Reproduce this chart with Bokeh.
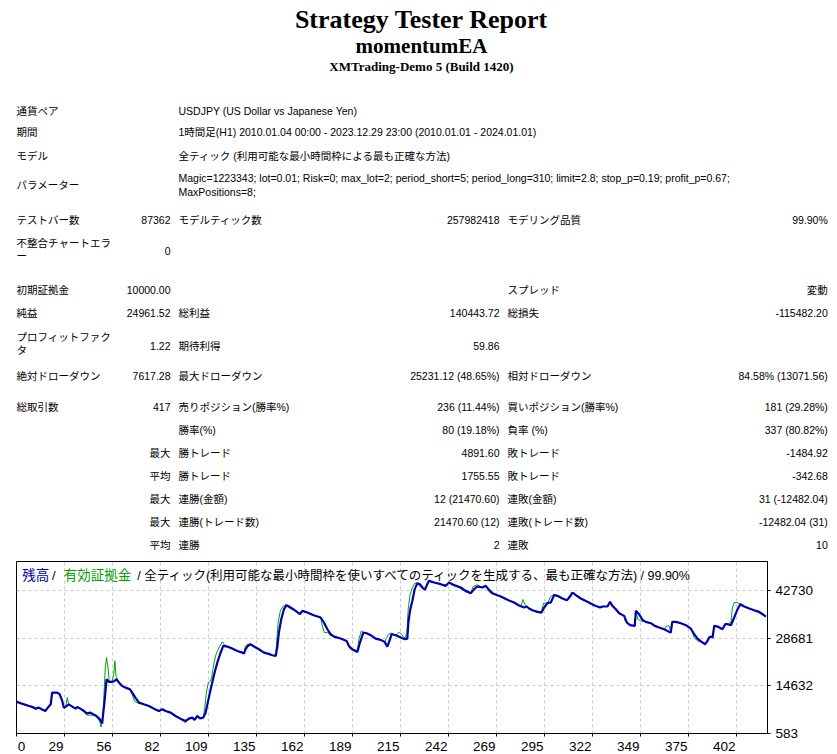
from bokeh.plotting import figure
from bokeh.models import Range1d, FixedTicker, Label, NumeralTickFormatter
from bokeh.layouts import column
from bokeh.core.properties import value
from bokeh.embed import file_html
from bokeh.resources import INLINE

# ---------------- data ----------------
report_title = "Strategy Tester Report"
expert_name = "momentumEA"
server_name = "XMTrading-Demo 5 (Build 1420)"

settings_labels = ["通貨ペア", "期間", "モデル", "パラメーター"]
settings_values = [
    ["USDJPY (US Dollar vs Japanese Yen)"],
    ["1時間足(H1) 2010.01.04 00:00 - 2023.12.29 23:00 (2010.01.01 - 2024.01.01)"],
    ["全ティック (利用可能な最小時間枠による最も正確な方法)"],
    ["Magic=1223343; lot=0.01; Risk=0; max_lot=2; period_short=5; period_long=310; limit=2.8; stop_p=0.19; profit_p=0.67;",
     "MaxPositions=8;"],
]

stat_col_a = [["テストバー数"], ["不整合チャートエラ", "ー"], ["初期証拠金"], ["純益"], ["プロフィットファク", "タ"],
              ["絶対ドローダウン"], ["総取引数"], [""], [""], [""], [""], [""], [""]]
stat_col_b = ["87362", "0", "10000.00", "24961.52", "1.22", "7617.28", "417", "", "最大", "平均", "最大", "最大", "平均"]
stat_col_c = ["モデルティック数", "", "", "総利益", "期待利得", "最大ドローダウン", "売りポジション(勝率%)", "勝率(%)",
              "勝トレード", "勝トレード", "連勝(金額)", "連勝(トレード数)", "連勝"]
stat_col_d = ["257982418", "", "", "140443.72", "59.86", "25231.12 (48.65%)", "236 (11.44%)", "80 (19.18%)",
              "4891.60", "1755.55", "12 (21470.60)", "21470.60 (12)", "2"]
stat_col_e = ["モデリング品質", "", "スプレッド", "総損失", "", "相対ドローダウン", "買いポジション(勝率%)", "負率 (%)",
              "敗トレード", "敗トレード", "連敗(金額)", "連敗(トレード数)", "連敗"]
stat_col_f = ["99.90%", "", "変動", "-115482.20", "", "84.58% (13071.56)", "181 (29.28%)", "337 (80.82%)",
              "-1484.92", "-342.68", "31 (-12482.04)", "-12482.04 (31)", "10"]

chart_title_parts = ["残高", "/", "有効証拠金", "/ 全ティック(利用可能な最小時間枠を使いすべてのティックを生成する、最も正確な方法) / 99.90%"]

total_trades = 417
y_tick_values = [583, 14632, 28681, 42730]
y_top = 51400
x_tick_labels = ["0", "29", "56", "82", "109", "135", "162", "189", "215", "242", "269", "295", "322", "349", "375", "402"]

balance_x = [0, 3, 7, 9, 10.5, 12.4, 14, 16, 17.4, 19, 19.8, 22.6, 24, 25.4, 26.3, 27.2, 29, 31, 32.8, 33.7,
             35.5, 37.4, 39, 41, 42.6, 44.4, 46.3, 47.6, 48, 49, 50, 51.3, 53, 54.4, 55.5, 56.9, 58.7, 60.5, 63, 64.3,
             66, 68, 70.7, 73.5, 76.3, 79, 81, 82.8, 85.6, 88.3, 91, 93.9, 95.7, 97.6, 98.9, 100.4, 101.9, 103.7, 105, 106,
             107.4, 108.7, 110, 111.5, 113, 114.8, 117, 119.8, 122.6, 125.4, 126.3, 127.2, 128.5, 130, 131.9, 134.6, 137.4, 140, 142, 143.9,
             144.8, 145.7, 147, 148.5, 150, 152.2, 155, 157.4, 158.7, 161.5, 165, 168.9, 170.7, 172.6, 174.4, 176.3, 180, 183.3, 184.6, 186.4,
             189.3, 190.7, 192.6, 194.4, 196.7, 199.4, 202.2, 204.4, 205.9, 206.9, 208.3, 210.6, 213.3, 215.7, 217, 217.6, 218.5, 219.8, 221.1, 222.6,
             224, 225.4, 226.7, 228.1, 229, 231.9, 235.6, 238.3, 240.2, 243, 246.7, 249.4, 252.2, 254.1, 255.9, 258.7, 260.6, 262.4, 264.3, 267,
             268.9, 272.6, 276.3, 279, 281.9, 283.3, 284.6, 286.5, 289.3, 291.5, 293, 294.8, 296.7, 298.5, 300.4, 303.1, 305.6, 307.4, 308.7, 310.6,
             313.3, 317, 320.7, 324, 325.4, 328.1, 329.6, 330.9, 332.8, 334.6, 337.4, 338.9, 340.7, 343.3, 343.9, 345.7, 347.6, 349.4, 352.2, 354.4,
             356.9, 359.6, 362.4, 363.3, 364.1, 366.1, 368.9, 371.7, 374.4, 376.3, 378.1, 380.4, 382.4, 383.7, 384.6, 385.6, 386.5, 387.4, 389.3, 392,
             393.5, 394.8, 396.7, 398.5, 400.4, 401.9, 404.1, 406.9, 409.6, 412.4, 414.3, 416.1]
balance_y = [10000, 9400, 8720, 8420, 7930, 8220, 7730, 7240, 8220, 9210, 12660, 12660, 12170, 10190, 8220, 8420, 9210, 8520, 7930, 8420,
             7930, 7240, 6550, 6740, 6250, 5760, 4770, 3590, 5760, 10690, 16600, 15820, 15820, 16110, 16600, 15620, 14630, 14140, 13650, 12660,
             11180, 9700, 9210, 8720, 7930, 7240, 7730, 7240, 6740, 5760, 4970, 4280, 4970, 5270, 4580, 5760, 5070, 5270, 6740, 9210,
             12660, 15620, 18580, 21530, 24000, 26460, 26260, 25670, 24980, 24490, 24200, 25480, 26460, 26960, 26260, 25480, 24490, 24100, 23700, 23500,
             25970, 30410, 34350, 37310, 38490, 37800, 36820, 35830, 36820, 36320, 35530, 34850, 33370, 31390, 29920, 29220, 28630, 27940, 26460, 25480,
             24690, 27450, 30410, 30210, 29620, 28630, 28240, 27650, 26260, 27650, 29920, 29620, 28930, 28440, 28630, 33370, 36820, 39780, 43230, 45000,
             44700, 43720, 43030, 44700, 45690, 45200, 44700, 44210, 45200, 44410, 43720, 42730, 42040, 43230, 44010, 43720, 44210, 43030, 42040, 41450,
             41060, 40070, 39280, 38400, 37800, 38100, 37510, 37010, 36520, 36320, 37800, 39090, 39280, 41450, 41260, 40470, 39970, 41060, 42240, 41450,
             40470, 39480, 38490, 37800, 38100, 38100, 39480, 38300, 37310, 36130, 35340, 33370, 32580, 32380, 36820, 35830, 34150, 33560, 33170, 32380,
             31890, 31390, 30600, 30410, 33560, 33560, 33170, 32580, 31590, 29920, 28630, 27650, 26960, 27940, 28930, 29220, 28930, 32380, 32180, 31390,
             32870, 32870, 32580, 34850, 37310, 38790, 38100, 37510, 37010, 36520, 35830, 35140]

equity_x = [0, 3, 7, 10.5, 12.4, 14, 16, 17.4, 19, 19.8, 22.6, 24, 25.4, 26.3, 27.2, 28.2, 29, 31, 32.8, 33.7,
            35.5, 37.4, 39, 41, 42.6, 44.4, 46.3, 46.9, 47.6, 48.3, 49.3, 50, 50.8, 51.5, 53, 54, 54.6, 55.3, 56.9, 58.7,
            60.5, 63, 64.3, 65.5, 67, 68, 70.7, 73.5, 76.3, 79, 81, 82.8, 85.6, 88.3, 91, 93.5, 94.5, 95.7, 97.6, 98.9,
            100.4, 101.9, 103.7, 104.5, 105.5, 106.5, 107.4, 108.3, 109.5, 110.8, 112.5, 114.3, 115.5, 117, 119.8, 122.6, 125.4, 126.3, 127.2, 128.5,
            130, 131.9, 134.6, 137.4, 140, 142, 143.9, 144.5, 145.3, 146.5, 147.8, 149.5, 151, 152.2, 155, 157.4, 158.7, 161.5, 165, 168.9,
            170, 171, 172.6, 174.4, 176.3, 180, 183.3, 184.6, 186.4, 189.3, 190.2, 191.5, 192.6, 194.4, 196.7, 199.4, 202.2, 204.4, 205.4, 206.5,
            208.3, 210.6, 212, 213.3, 215.7, 216.8, 217.5, 218.5, 219.8, 221.1, 222.6, 224, 225.4, 226.7, 228.1, 229, 231.9, 235.6, 238.3, 240.2,
            243, 246.7, 249.4, 252.2, 253.5, 255.9, 258.7, 260.6, 262.4, 264.3, 267, 268.9, 272.6, 276.3, 279, 280, 281.2, 282.5, 283.3, 284.6,
            286.5, 289.3, 291.5, 292.7, 294.8, 296.7, 298.5, 300.4, 303.1, 305.6, 307.4, 308.7, 310.6, 313.3, 317, 320.7, 324, 325.4, 328.1, 329.6,
            330.9, 332.8, 334.6, 337.4, 338, 338.9, 340.7, 343.3, 343.9, 345, 346.5, 349.4, 352.2, 354.4, 356.9, 359.6, 361, 362.4, 363.3, 364.1,
            366.1, 368.9, 371.7, 374.4, 376.3, 378.1, 380.4, 382.4, 383.7, 384.6, 385.6, 386.5, 387.4, 389.3, 392, 393.5, 394.8, 396.7, 397.5, 398.5,
            400, 401.9, 404.1, 406.9, 409.6, 412.4, 414.3, 416.1]
equity_y = [10000, 9300, 8600, 7800, 8150, 7650, 7150, 8150, 9400, 12660, 12660, 12170, 10190, 8220, 8420, 11200, 9100, 8520, 7930, 8300,
            7900, 7100, 6000, 6000, 6000, 5700, 4000, 2500, 3800, 9000, 20000, 23040, 20000, 16000, 15820, 18000, 22050, 17500, 15620, 14630,
            14140, 13650, 12000, 10200, 9700, 9600, 9210, 8720, 7700, 7100, 7730, 7150, 6740, 5760, 4970, 3800, 4200, 4970, 5270, 4580,
            5760, 5070, 5270, 8000, 13000, 15620, 15900, 17000, 21000, 24000, 26000, 27640, 26800, 26260, 25670, 24980, 24490, 24300, 26460, 26960,
            26960, 26260, 25480, 24490, 24100, 23700, 23500, 28000, 33370, 36820, 38000, 38700, 37800, 37500, 36820, 35830, 36820, 36320, 35530, 34850,
            32000, 30410, 30410, 29500, 29220, 28630, 27940, 26000, 25180, 25180, 28630, 30900, 30410, 30210, 29620, 28630, 28240, 27650, 28630, 29920,
            30210, 29620, 30410, 30210, 28630, 30410, 37310, 41500, 43720, 45000, 45000, 44000, 43720, 43030, 44700, 45690, 45200, 44700, 44210, 45200,
            44410, 43400, 42430, 42040, 44010, 44500, 43720, 44010, 42430, 41740, 41450, 41060, 40070, 39280, 38400, 38100, 40170, 38400, 38100, 37510,
            37010, 36520, 36620, 39090, 39090, 41060, 41750, 41260, 40470, 39970, 41560, 42240, 41450, 40470, 39480, 38490, 37800, 38100, 38100, 39480,
            38300, 37310, 36130, 35340, 33860, 33370, 32580, 32380, 36820, 34350, 33860, 33560, 33170, 32380, 31890, 31390, 32380, 32380, 30410, 33560,
            33560, 33170, 32580, 31590, 28930, 27940, 27650, 26960, 27940, 28930, 29220, 28930, 32380, 32180, 31390, 32870, 32870, 33500, 37800, 39280,
            39280, 38790, 38100, 37510, 37010, 36200, 35500, 35140]

# ---------------- layout constants ----------------
W = 837
TEXT_H = 558
CHART_H = 195
FRAME_L, FRAME_R, FRAME_T, FRAME_B = 16, 70, 3, 19
JP_FONT = "Liberation Sans, Noto Sans CJK JP"
SERIF = "Liberation Serif"
TABLE_SIZE = "10.5px"
col_left_a, col_right_b, col_left_c, col_right_d, col_left_e, col_right_f = 16, 170, 178, 499, 507, 827.3
settings_row_y = [110, 131.7, 155.7, 184.5]
stat_row_y = [219, 250.7, 289, 312.3, 345, 375, 406, 429.3, 452, 475, 498.3, 521.7, 544.3]

# ---------------- text (report header and table) ----------------
tp = figure(width=W, height=TEXT_H, x_range=Range1d(0, W), y_range=Range1d(TEXT_H, 0),
            toolbar_location=None, output_backend="svg", min_border=0,
            x_axis_location=None, y_axis_location=None, outline_line_color=None)
tp.grid.visible = False
tp.frame_align = False


def put(xs, ys, texts, align, size=TABLE_SIZE, font=JP_FONT, style="normal", color="black"):
    tp.text(x=xs, y=ys, text=texts, text_align=value(align), text_baseline=value("middle"),
            text_font=value(font), text_font_size=value(size), text_font_style=value(style), text_color=color)


put([421], [18.5], [report_title], "center", size="26px", font=SERIF, style="bold")
put([421], [45.5], [expert_name], "center", size="21px", font=SERIF, style="bold")
put([421], [65.8], [server_name], "center", size="13px", font=SERIF, style="bold")

# settings block
sx, sy, st = [], [], []
vx, vy, vt = [], [], []
for lab, vals, y in zip(settings_labels, settings_values, settings_row_y):
    sx.append(col_left_a); sy.append(y); st.append(lab)
    n = len(vals)
    for k, v in enumerate(vals):
        vx.append(col_left_c); vy.append(y + (k - (n - 1) / 2) * 14); vt.append(v)
put(sx, sy, st, "left")
put(vx, vy, vt, "left")

# statistics block
lx, ly, lt = [], [], []
rx, ry, rt = [], [], []
for i, y in enumerate(stat_row_y):
    parts = stat_col_a[i]
    if len(parts) == 1:
        if parts[0]:
            lx.append(col_left_a); ly.append(y); lt.append(parts[0])
    else:
        for k, ptxt in enumerate(parts):
            lx.append(col_left_a); ly.append(y - 8.7 + k * 13.3); lt.append(ptxt)
    for txt, x in ((stat_col_c[i], col_left_c), (stat_col_e[i], col_left_e)):
        if txt:
            lx.append(x); ly.append(y); lt.append(txt)
    for txt, x in ((stat_col_b[i], col_right_b), (stat_col_d[i], col_right_d), (stat_col_f[i], col_right_f)):
        if txt:
            rx.append(x); ry.append(y); rt.append(txt)
put(lx, ly, lt, "left")
put(rx, ry, rt, "right")

# ---------------- chart ----------------
cp = figure(width=W, height=CHART_H, x_range=Range1d(0, total_trades), y_range=Range1d(y_tick_values[0], y_top),
            y_axis_location="right", toolbar_location=None, output_backend="svg",
            min_border_left=FRAME_L, min_border_right=FRAME_R, min_border_top=FRAME_T, min_border_bottom=FRAME_B)
cp.frame_align = False
cp.outline_line_color = "black"
cp.outline_line_width = 1
cp.outline_line_alpha = 1

px_per_unit = (W - FRAME_L - FRAME_R) / total_trades
x_step = 48 / px_per_unit                      # grid spacing of the tester chart: 48 px
x_grid_pos = [i * x_step for i in range(len(x_tick_labels))]
label_font_px = 13.5
digit_w = 0.556 * label_font_px
# MT5 writes each tick label just left of its grid line (the first one just right of the border)
x_label_pos = []
for i, (g, lab) in enumerate(zip(x_grid_pos, x_tick_labels)):
    half = len(lab) * digit_w / 2
    x_label_pos.append(round(g + (1.3 + half) / px_per_unit if i == 0 else g - (1 + half) / px_per_unit, 4))

xa = cp.xaxis[0]
xa.ticker = FixedTicker(ticks=x_label_pos, minor_ticks=x_grid_pos)
xa.major_label_overrides = dict(zip(x_label_pos, x_tick_labels))
xa.major_label_standoff = 5
xa.major_tick_out = 0
xa.major_tick_in = 0
xa.minor_tick_out = 3
xa.minor_tick_in = 0
xa.minor_tick_line_color = "black"
xa.axis_line_color = "black"
xa.major_label_text_font = JP_FONT
xa.major_label_text_font_size = "%gpx" % label_font_px
xa.major_label_text_color = "black"

ya = cp.yaxis[0]
ya.ticker = FixedTicker(ticks=y_tick_values)
ya.formatter = NumeralTickFormatter(format="0")
ya.major_tick_out = 3
ya.major_tick_in = 0
ya.minor_tick_out = 0
ya.minor_tick_in = 0
ya.major_label_standoff = 5
ya.major_label_text_font = JP_FONT
ya.major_label_text_font_size = "%gpx" % label_font_px
ya.major_label_text_color = "black"
ya.axis_line_color = "black"
ya.major_tick_line_color = "black"

cp.xgrid.ticker = FixedTicker(ticks=x_grid_pos)
cp.ygrid.ticker = FixedTicker(ticks=y_tick_values)
cp.grid.grid_line_color = "#C8C8C8"
cp.grid.grid_line_dash = "3 3"
cp.grid.grid_line_width = 1

cp.line(equity_x, equity_y, line_color="#00A000", line_width=1)
cp.line(balance_x, balance_y, line_color="#0000B0", line_width=2.2)

title_offsets = [5.7, 37.3, 47.3, 120.7]
title_colors = ["#0000B0", "black", "#00A000", "black"]
title_aligns = ["left", "center", "left", "left"]
title_sizes = ["13.5px", "13px", "13.5px", "12.5px"]
for part, off, col, al, sz in zip(chart_title_parts, title_offsets, title_colors, title_aligns, title_sizes):
    cp.add_layout(Label(x=0, y=y_top, x_offset=off, y_offset=-14, text=part, text_align=al,
                        text_baseline="middle", text_font=JP_FONT, text_font_size=sz, text_color=col))

layout = column(tp, cp, spacing=0)
open("out.html", "w").write(file_html(layout, INLINE))
